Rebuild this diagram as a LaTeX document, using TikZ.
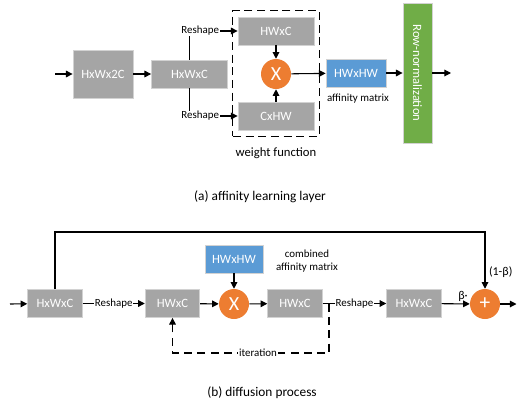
\documentclass[tikz,border=0pt]{standalone}
\usepackage{fontspec}
\setmainfont{Carlito}
\usepackage{tikz}
\usetikzlibrary{shapes,arrows.meta,positioning,fit,backgrounds}

\definecolor{boxgray}{HTML}{A5A5A5}
\definecolor{boxblue}{HTML}{5B9BD5}
\definecolor{boxgreen}{HTML}{70AD47}
\definecolor{oporange}{HTML}{ED7D31}

\begin{document}
\begin{tikzpicture}[x=0.75pt, y=-0.75pt,
    tensor/.style={rectangle, draw=gray!35, line width=0.6pt, fill=boxgray, text=white, minimum width=57pt, minimum height=21pt, inner sep=0pt, font=\fontsize{9.5}{11}\selectfont},
    affinity/.style={tensor, fill=boxblue},
    norm/.style={tensor, fill=boxgreen, minimum width=21.75pt, minimum height=105pt},
    op/.style={circle, fill=oporange, text=white, minimum size=22.5pt, inner sep=0pt, font=\fontsize{15}{15}\selectfont},
    tag/.style={fill=white, inner sep=0.6pt, font=\fontsize{8.2}{9.5}\selectfont},
    caption/.style={font=\fontsize{10}{12}\selectfont},
    arrow/.style={-{Triangle[length=5pt, width=5pt]}, line width=0.8pt}
]
\useasboundingbox (0,0) rectangle (517,400);

% (a) affinity learning layer
\coordinate (in_a) at (55,74);
\node[tensor, minimum width=45pt, minimum height=36pt] at (103,74) (feat2c) {HxWx2C};
\node[tensor] at (189.5,74) (feat_a) {HxWxC};
\node[tensor] at (276,31) (query) {HWxC};
\node[tensor] at (276,116) (key) {CxHW};
\node[op] at (276,74) (mul_a) {X};
\node[affinity, minimum width=45pt] at (356,73) (aff_a) {HWxHW};
\node[norm] at (417.5,73) (rownorm) {};
\node[rotate=-90, text=white, font=\fontsize{9.5}{11}\selectfont] at (rownorm) {Row-normalization};
\coordinate (out_a) at (451,73);

% weight function box
\node[draw, dashed, line width=0.8pt, dash pattern=on 6pt off 3.5pt, fit=(query)(key), inner xsep=3.5pt, inner ysep=4.5pt] (weight) {};
\node[font=\fontsize{9.5}{11}\selectfont] at (276,153) (weight_label) {weight function};
\node[tag] at (358,99) (aff_label) {affinity matrix};

% Arrows (a)
\draw[arrow] (in_a) -- (feat2c);
\draw[arrow] (feat2c) -- (feat_a);
\draw[arrow] (feat_a.north) |- node[tag, pos=0.5, xshift=8pt] {Reshape} (query.west);
\draw[arrow] (feat_a.south) |- node[tag, pos=0.5, xshift=8pt] {Reshape} (key.west);
\draw[arrow] (query) -- (mul_a);
\draw[arrow] (key) -- (mul_a);
\draw[arrow] (mul_a) -- (aff_a);
\draw[arrow] (aff_a) -- (aff_a -| rownorm.west);
\draw[arrow] (aff_a -| rownorm.east) -- (out_a);

\node[caption] at (260,197) (cap_a) {(a) affinity learning layer};

% (b) diffusion process
\coordinate (in_b) at (10,304);
\node[tensor, minimum width=41pt] at (55,303.5) (feat_b) {HxWxC};
\node[tensor, minimum width=41pt] at (172.5,303.5) (flat_b) {HWxC};
\node[affinity, minimum width=43.5pt] at (234,259) (aff_b) {HWxHW};
\node[op] at (234,304) (mul_b) {X};
\node[tensor, minimum width=41pt] at (295,303.5) (prod_b) {HWxC};
\node[tensor, minimum width=41pt] at (414,303.5) (back_b) {HxWxC};
\node[op, font=\fontsize{16}{16}\selectfont] at (485,304) (plus) {+};
\coordinate (out_b) at (516.5,304);
\coordinate (skip) at (485,232);
\coordinate (itr) at (329,303.5);
\coordinate (loop) at (258,353);

\node[tag, align=center, fill=none] at (307,261) (comb_label) {combined\\affinity matrix};

% Arrows (b)
\draw[arrow] (in_b) -- (feat_b);
\draw[arrow] (feat_b) -- node[tag] {Reshape} (flat_b);
\draw[arrow] (flat_b) -- (mul_b);
\draw[arrow] (aff_b) -- (mul_b);
\draw[arrow] (mul_b) -- (prod_b);
\draw[arrow] (prod_b) -- node[tag] {Reshape} (back_b);
\draw[arrow] (back_b) -- node[tag, pos=0.76, above=1pt, fill=none, font=\fontsize{9}{10}\selectfont] {β·} (plus);
\draw[arrow] (feat_b.north) |- (skip) -- node[tag, pos=0.7, right=2pt, fill=none, font=\fontsize{9}{10}\selectfont] {(1-β)} (plus.north);
\draw[arrow] (plus) -- (out_b);
\draw[arrow, dash pattern=on 6pt off 4pt] (itr) |- (loop) node[tag] {iteration} -| (flat_b.south);

\node[caption] at (262,393) (cap_b) {(b) diffusion process};

\end{tikzpicture}
\end{document}
